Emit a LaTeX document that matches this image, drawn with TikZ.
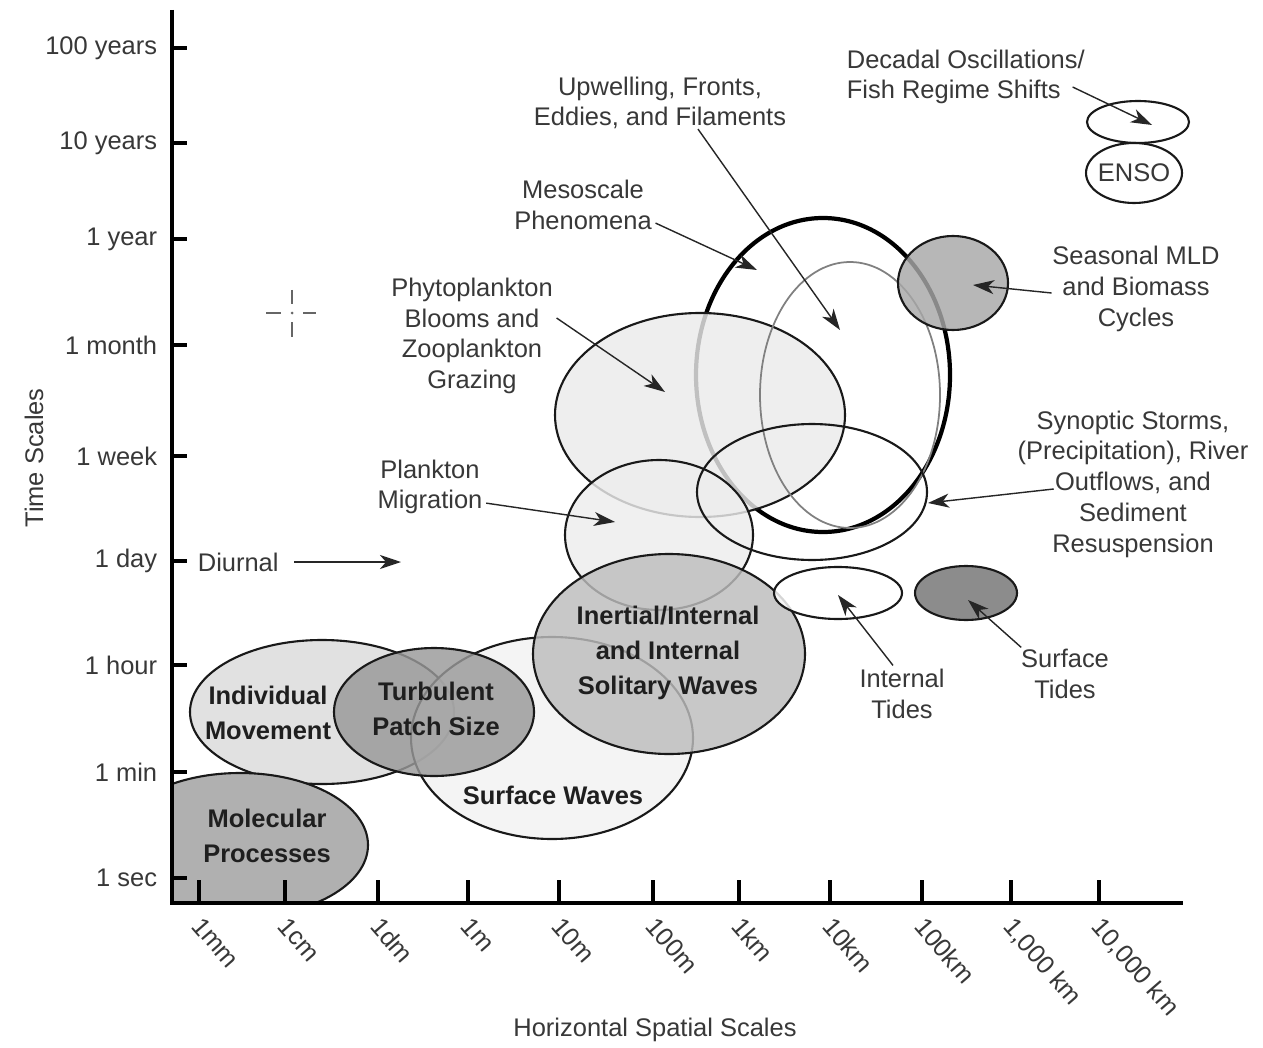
\documentclass[tikz,border=0pt]{standalone}
\usepackage{fontspec}
\setmainfont{Liberation Sans}
\usetikzlibrary{arrows.meta,calc}

\begin{document}
\begin{tikzpicture}[x=0.02cm, y=-0.02cm,
  lbl/.style={font=\fontsize{14.5}{17.5}\selectfont, text=black!78, align=center, inner sep=2pt},
  slbl/.style={lbl, rotate=-49, anchor=north west, inner sep=0pt},
  blbl/.style={font=\fontsize{14.5}{20}\selectfont\bfseries, text=black!88, align=center, inner sep=1pt},
  blob/.style={draw=black!90, line width=1.2pt, fill opacity=0.82},
  arr/.style={draw=black!85, line width=0.8pt, -{Stealth[length=12pt,width=8pt,inset=3.5pt]}},
  axtick/.style={line width=2.2pt}]
\useasboundingbox (0,0) rectangle (1263,1047);
\fill[white] (0,0) rectangle (1263,1047);
\draw[line width=2.4pt] (823,375) ellipse [x radius=127, y radius=157];
\filldraw[blob, fill=black!8] (700,415) ellipse [x radius=145, y radius=102];
\draw[draw=black!50, line width=1pt] (850,395) ellipse [x radius=90, y radius=133];
\filldraw[blob, fill=black!7] (659,535) ellipse [x radius=94, y radius=75];
\draw[blob] (812,492) ellipse [x radius=115, y radius=68];
\filldraw[blob, fill=black!34] (953,283) ellipse [x radius=55, y radius=47];
\filldraw[blob, fill=black!14] (322,712) ellipse [x radius=132, y radius=72];
\filldraw[blob, fill=black!5] (552,738) ellipse [x radius=141, y radius=101];
\filldraw[blob, fill=black!40] (434,712) ellipse [x radius=100, y radius=64];
\begin{scope}
  \clip (172,0) rectangle (1263,903);
  \filldraw[blob, fill=black!31, fill opacity=1] (240,845) ellipse [x radius=128, y radius=72];
\end{scope}
\filldraw[blob, fill=black!26] (669,654) ellipse [x radius=136, y radius=100];
\filldraw[blob, fill=white] (838,593) ellipse [x radius=64, y radius=26];
\filldraw[blob, fill=black!45, fill opacity=1] (966,593) ellipse [x radius=51, y radius=27];
\filldraw[blob, fill=white] (1138,122) ellipse [x radius=51, y radius=21];
\filldraw[blob, fill=white] (1134,173) ellipse [x radius=48, y radius=30];
\draw[line width=2.8pt] (172,10) -- (172,905);
\draw[line width=2.8pt] (170,903) -- (1183,903);
\draw[axtick] (172,48) -- (187,48);
\draw[axtick] (172,143) -- (187,143);
\draw[axtick] (172,239) -- (187,239);
\draw[axtick] (172,345) -- (187,345);
\draw[axtick] (172,456) -- (187,456);
\draw[axtick] (172,561) -- (187,561);
\draw[axtick] (172,665) -- (187,665);
\draw[axtick] (172,772) -- (187,772);
\draw[axtick] (172,878) -- (187,878);
\draw[axtick] (199,903) -- (199,880);
\draw[axtick] (285,903) -- (285,880);
\draw[axtick] (378,903) -- (378,880);
\draw[axtick] (468,903) -- (468,880);
\draw[axtick] (559,903) -- (559,880);
\draw[axtick] (653,903) -- (653,880);
\draw[axtick] (739,903) -- (739,880);
\draw[axtick] (830,903) -- (830,880);
\draw[axtick] (922,903) -- (922,880);
\draw[axtick] (1011,903) -- (1011,880);
\draw[axtick] (1099,903) -- (1099,880);
\node[lbl, anchor=east] (t100y) at (161,48) {100 years};
\node[lbl, anchor=east] (t10y) at (161,143) {10 years};
\node[lbl, anchor=east] (t1y) at (161,239) {1 year};
\node[lbl, anchor=east] (t1mo) at (161,345) {1 month};
\node[lbl, anchor=east] (t1wk) at (161,456) {1 week};
\node[lbl, anchor=east] (t1d) at (161,561) {1 day};
\node[lbl, anchor=east] (t1h) at (161,665) {1 hour};
\node[lbl, anchor=east] (t1min) at (161,772) {1 min};
\node[lbl, anchor=east] (t1s) at (161,878) {1 sec};
\node[slbl] (s1mm) at (204,915) {1mm};
\node[slbl] (s1cm) at (290,915) {1cm};
\node[slbl] (s1dm) at (383,915) {1dm};
\node[slbl] (s1m) at (473,915) {1m};
\node[slbl] (s10m) at (564,915) {10m};
\node[slbl] (s100m) at (658,915) {100m};
\node[slbl] (s1km) at (744,915) {1km};
\node[slbl] (s10km) at (835,915) {10km};
\node[slbl] (s100km) at (927,915) {100km};
\node[slbl] (s1000km) at (1016,915) {1,000 km};
\node[slbl] (s10000km) at (1104,915) {10,000 km};
\node[lbl, rotate=90] (ytitle) at (34,458) {Time Scales};
\node[lbl] (xtitle) at (655,1030) {Horizontal Spatial Scales};
\draw[draw=black!60, line width=0.9pt] (266,313) -- (281,313) (303,313) -- (316,313)
  (292,290) -- (292,304) (292,322) -- (292,337);
\fill[black!60] (292,313) circle [radius=1.5];
\node[lbl, anchor=west] (diurnal) at (194,562) {Diurnal};
\coordinate (diurnaltip) at (401,562);
\draw[arr, line width=1.1pt] ($(diurnal.east)+(12,0)$) -- (diurnaltip);
\node[blbl] (moltxt) at (267,836) {Molecular\\Processes};
\node[blbl] (indivtxt) at (268,713) {Individual\\Movement};
\node[blbl] (turbtxt) at (436,709) {Turbulent\\Patch Size};
\node[blbl] (swtxt) at (553,795) {Surface Waves};
\node[blbl] (inertxt) at (668,653) {Inertial/Internal\\and Internal\\Solitary Waves};
\node[lbl] (ensotxt) at (1134,173) {ENSO};
\node[lbl] (upwtxt) at (660,103) {Upwelling, Fronts,\\Eddies, and Filaments};
\node[lbl] (mesotxt) at (583,205) {Mesoscale\\Phenomena};
\node[lbl] (phytotxt) at (472,336) {Phytoplankton\\Blooms and\\Zooplankton\\Grazing};
\node[lbl] (migtxt) at (430,487) {Plankton\\Migration};
\node[lbl, anchor=west, align=left] (decadtxt) at (843,77) {Decadal Oscillations/\\Fish Regime Shifts};
\node[lbl] (seastxt) at (1136,289) {Seasonal MLD\\and Biomass\\Cycles};
\node[lbl] (syntxt) at (1133,484) {Synoptic Storms,\\(Precipitation), River\\Outflows, and\\Sediment\\Resuspension};
\node[lbl] (inttidetxt) at (902,694) {Internal\\Tides};
\node[lbl] (surftidetxt) at (1065,674) {Surface\\Tides};
\coordinate (decadtip) at (1152,125);
\coordinate (upwtip) at (840,330);
\coordinate (mesotip) at (757,270);
\coordinate (phytotip) at (665,392);
\coordinate (migtip) at (615,522);
\coordinate (seastip) at (973,285);
\coordinate (syntip) at (928,503);
\coordinate (inttidetip) at (838,595);
\coordinate (surftidetip) at (968,600);
\draw[arr] ($(decadtxt.east)+(-16,10)$) -- (decadtip);
\draw[arr] ($(upwtxt.south)+(38,-4)$) -- (upwtip);
\draw[arr] (mesotxt.-14) -- (mesotip);
\draw[arr] (phytotxt.12) -- (phytotip);
\draw[arr] (migtxt.-16) -- (migtip);
\draw[arr] ($(seastxt.west)+(3,4)$) -- (seastip);
\draw[arr] ($(syntxt.west)+(40,5)$) -- (syntip);
\draw[arr] ($(inttidetxt.north)+(-9,0)$) -- (inttidetip);
\draw[arr] ($(surftidetxt.north west)+(4,2)$) -- (surftidetip);
\end{tikzpicture}
\end{document}
